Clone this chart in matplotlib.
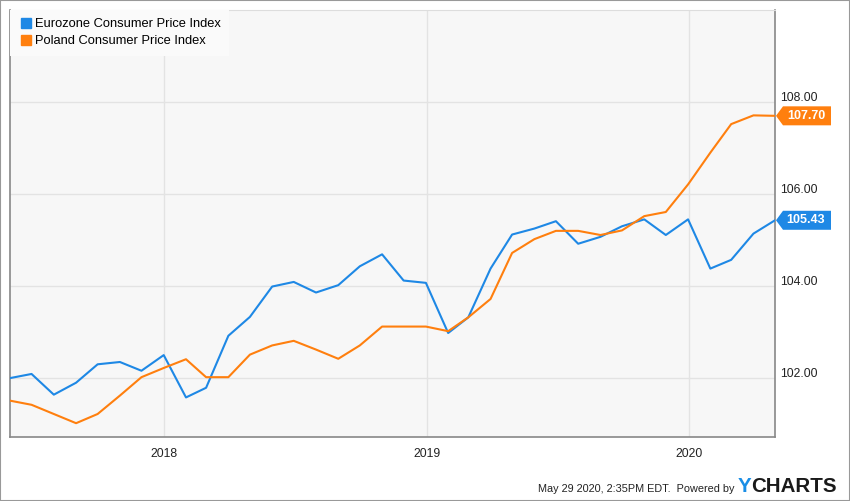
import matplotlib
matplotlib.use("Agg")
import matplotlib.pyplot as plt
import matplotlib.transforms as mtransforms
from matplotlib.patches import Polygon, Rectangle
from matplotlib.lines import Line2D
import pandas as pd

plt.rcParams['font.family'] = ['Liberation Sans', 'DejaVu Sans']

# month-end observations, May 2017 .. Apr 2020
dates = pd.date_range('2017-05-31', '2020-04-30', freq='ME')

eurozone = [102.00, 102.09, 101.64, 101.90, 102.30, 102.35, 102.16, 102.50,
            101.58, 101.79, 102.92, 103.33, 103.99, 104.09, 103.86, 104.02,
            104.43, 104.69, 104.12, 104.07, 102.98, 103.32, 104.38, 105.12,
            105.25, 105.41, 104.92, 105.07, 105.30, 105.45, 105.11, 105.45,
            104.38, 104.57, 105.14, 105.43]

poland = [101.51, 101.42, 101.22, 101.02, 101.22, 101.62, 102.02, 102.22,
          102.41, 102.02, 102.02, 102.51, 102.71, 102.81, 102.62, 102.42,
          102.71, 103.12, 103.12, 103.12, 103.02, 103.32, 103.72, 104.72,
          105.02, 105.20, 105.20, 105.11, 105.21, 105.52, 105.61, 106.21,
          106.90, 107.52, 107.71, 107.70]

series_names = ['Eurozone Consumer Price Index', 'Poland Consumer Price Index']
colors = ['#1e88e5', '#ff7f0e']
yticks = [102, 104, 106, 108]
year_ticks = pd.to_datetime(['2018-01-01', '2019-01-01', '2020-01-01'])
year_labels = ['2018', '2019', '2020']

W, H = 850, 501
fig = plt.figure(figsize=(W / 100, H / 100), dpi=100)
fig.patch.set_facecolor('white')
ax = fig.add_axes([10 / W, (H - 437) / H, 765 / W, 427 / H])
ax.set_facecolor('#f7f7f7')

ax.plot(dates, eurozone, color=colors[0], lw=1.5, zorder=3)
ax.plot(dates, poland, color=colors[1], lw=1.5, zorder=3)

ax.set_xlim(dates[0], dates[-1])
ax.set_ylim(100.72, 110.0)

ax.set_yticks(yticks)
ax.set_yticklabels(['%.2f' % v for v in yticks])
ax.yaxis.tick_right()
ax.set_xticks(year_ticks)
ax.set_xticklabels(year_labels)
ax.tick_params(axis='both', length=0, labelsize=8.8, colors='#222222')
ax.tick_params(axis='y', pad=3.5)
ax.tick_params(axis='x', pad=8)
ax.grid(True, color='#e3e3e3', lw=1)
ax.set_axisbelow(True)
for side in ['left', 'bottom', 'right']:
    ax.spines[side].set_color('#888888')
    ax.spines[side].set_linewidth(1.2)
ax.spines['top'].set_color('#dddddd')

# y labels sit a little above their gridline
lift = mtransforms.ScaledTranslation(0, 6 / 100, fig.dpi_scale_trans)
for lbl in ax.get_yticklabels():
    lbl.set_transform(lbl.get_transform() + lift)

# legend
handles = [Line2D([], [], marker='s', ls='none', color=c, markersize=6.8) for c in colors]
leg = ax.legend(handles, series_names, loc='upper left', bbox_to_anchor=(0, 1),
                borderaxespad=0, frameon=True, fancybox=False, framealpha=1,
                facecolor='#fafafa', edgecolor='none', fontsize=9.3,
                handlelength=1.2, handletextpad=0.1, labelspacing=0.38,
                borderpad=0.65)
leg.set_zorder(5)

# last value badges
fig.canvas.draw()
ident = mtransforms.IdentityTransform()
x0 = ax.transAxes.transform((1, 0))[0]
for vals, c in zip([eurozone, poland], colors):
    yp = ax.transData.transform((0, vals[-1]))[1]
    hh = 9.5
    pts = [(x0 + 1, yp), (x0 + 8, yp + hh), (x0 + 56, yp + hh),
           (x0 + 56, yp - hh), (x0 + 8, yp - hh)]
    fig.patches.append(Polygon(pts, closed=True, facecolor=c, edgecolor='none',
                               transform=ident, figure=fig, zorder=6))
    fig.text((x0 + 31) / W, yp / H, '%.2f' % vals[-1], color='white',
             fontsize=9, fontweight='bold', ha='center', va='center', zorder=7)

# footer
fig.text(734 / W, 8.5 / H, 'May 29 2020, 2:35PM EDT.  Powered by', fontsize=7.8,
         ha='right', va='baseline', color='#222222')
t = fig.text(738 / W, 8.5 / H, 'Y', fontsize=14.8, fontweight='bold',
             color='#1a8ee6', ha='left', va='baseline')
fig.canvas.draw()
bb = t.get_window_extent()
fig.text(bb.x1 / W, 8.5 / H, 'CHARTS', fontsize=14.8, fontweight='bold',
         color='#1a1a1a', ha='left', va='baseline')

# outer frame
fig.patches.append(Rectangle((0, 0), 1, 1, transform=fig.transFigure, fill=False,
                             edgecolor='#999999', lw=1.5, figure=fig))

fig.savefig('out.png', dpi=100)
